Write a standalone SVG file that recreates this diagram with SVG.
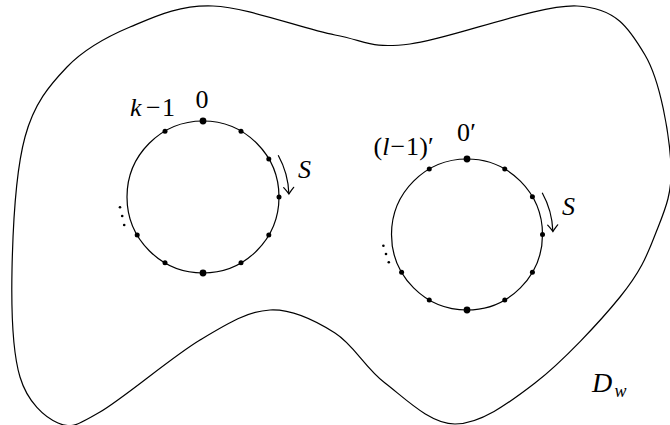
<svg xmlns="http://www.w3.org/2000/svg" width="670" height="425" viewBox="0 0 670 425">
  <style>
    .ln { fill: none; stroke: #000; stroke-width: 1.2; }
    .dot { fill: #000; }
    .t { font-family: "Liberation Serif", "DejaVu Serif", serif; font-size: 26px; fill: #000; }
    .i { font-style: italic; }
  </style>
  <defs>
    <marker id="to" markerUnits="userSpaceOnUse" viewBox="-8 -6 10 12" refX="0" refY="0" markerWidth="10" markerHeight="12" orient="auto">
      <path d="M-6.5,-5 Q-2,-1.2 0,0 Q-2,1.2 -6.5,5" fill="none" stroke="#000" stroke-width="1.2" stroke-linecap="round"/>
    </marker>
  </defs>
  <rect width="670" height="425" fill="#fff"/>

  <g id="region-Dw">
    <path class="ln" d="M213,6 C247.2,7.3 302.2,28.7 335,35 C367.8,41.3 369.7,48.8 410,44 C450.3,39.2 537.8,4.2 577,6 C616.2,7.8 629.3,28.5 645,55 C660.7,81.5 669.3,135 671,165 C672.7,195 663.5,213 655,235 C646.5,257 640,272.3 620,297 C600,321.7 562.5,361.8 535,383 C507.5,404.2 480,424 455,424 C430,424 405,398.2 385,383 C365,367.8 354.2,345.2 335,333 C315.8,320.8 292.5,308.8 270,310 C247.5,311.2 228.3,323 200,340 C171.7,357 123.7,398.2 100,412 C76.3,425.8 71.3,428.8 58,423 C44.7,417.2 27.7,402.5 20,377 C12.3,351.5 11.2,310 12,270 C12.8,230 15.8,170.8 25,137 C34.2,103.2 49.5,85.3 67,67 C84.5,48.7 105.7,37.2 130,27 C154.3,16.8 178.8,4.7 213,6 Z"/>
    <text class="t" y="392"><tspan class="i" x="592" font-size="28">D</tspan><tspan class="i" x="614.5" y="397" font-size="18">w</tspan></text>
  </g>

  <g id="loop-left">
    <circle class="ln" cx="203" cy="197" r="76"/>
    <circle class="dot" cx="203" cy="121" r="3.4"/>
    <circle class="dot" cx="241" cy="131.2" r="2.5"/>
    <circle class="dot" cx="268.8" cy="159" r="2.5"/>
    <circle class="dot" cx="279" cy="197" r="2.5"/>
    <circle class="dot" cx="268.8" cy="235" r="2.5"/>
    <circle class="dot" cx="241" cy="262.8" r="2.5"/>
    <circle class="dot" cx="203" cy="273" r="3.4"/>
    <circle class="dot" cx="165" cy="262.8" r="2.5"/>
    <circle class="dot" cx="137.2" cy="235" r="2.5"/>
    <circle class="dot" cx="165" cy="131.2" r="2.5"/>
    <circle class="dot" cx="120" cy="207.3" r="1.3"/>
    <circle class="dot" cx="122.2" cy="216" r="1.3"/>
    <circle class="dot" cx="124.2" cy="225" r="1.3"/>
    <text class="t" y="115.5"><tspan class="i" x="130">k</tspan><tspan x="146">−</tspan><tspan x="162">1</tspan></text>
    <text class="t" x="202" y="107.5" text-anchor="middle">0</text>
    <text class="t i" x="298" y="178">S</text>
  </g>

  <g id="loop-right">
    <circle class="ln" cx="467" cy="234.5" r="75.5"/>
    <circle class="dot" cx="467" cy="159" r="3.4"/>
    <circle class="dot" cx="504.75" cy="169.1" r="2.5"/>
    <circle class="dot" cx="532.4" cy="196.75" r="2.5"/>
    <circle class="dot" cx="542.5" cy="234.5" r="2.5"/>
    <circle class="dot" cx="532.4" cy="272.25" r="2.5"/>
    <circle class="dot" cx="504.75" cy="299.9" r="2.5"/>
    <circle class="dot" cx="467" cy="310" r="3.4"/>
    <circle class="dot" cx="429.25" cy="299.9" r="2.5"/>
    <circle class="dot" cx="401.6" cy="272.25" r="2.5"/>
    <circle class="dot" cx="429.25" cy="169.1" r="2.5"/>
    <circle class="dot" cx="383.4" cy="245.7" r="1.3"/>
    <circle class="dot" cx="386" cy="254" r="1.3"/>
    <circle class="dot" cx="388.8" cy="262.3" r="1.3"/>
    <text class="t" y="154.5"><tspan x="373.5">(</tspan><tspan class="i" x="382.2">l</tspan><tspan x="390.5">−</tspan><tspan x="406">1</tspan><tspan x="419.2">)</tspan><tspan x="428">′</tspan></text>
    <text class="t" y="140.5"><tspan x="457">0</tspan><tspan x="470.2">′</tspan></text>
    <text class="t i" x="562" y="215">S</text>
  </g>

  <g id="connectors">
    <path class="ln" d="M278.2,155.3 A86,86 0 0 1 288.9,194" marker-end="url(#to)"/>
    <path class="ln" d="M542.2,192.8 A86,86 0 0 1 552.9,231.5" marker-end="url(#to)"/>
  </g>
</svg>
